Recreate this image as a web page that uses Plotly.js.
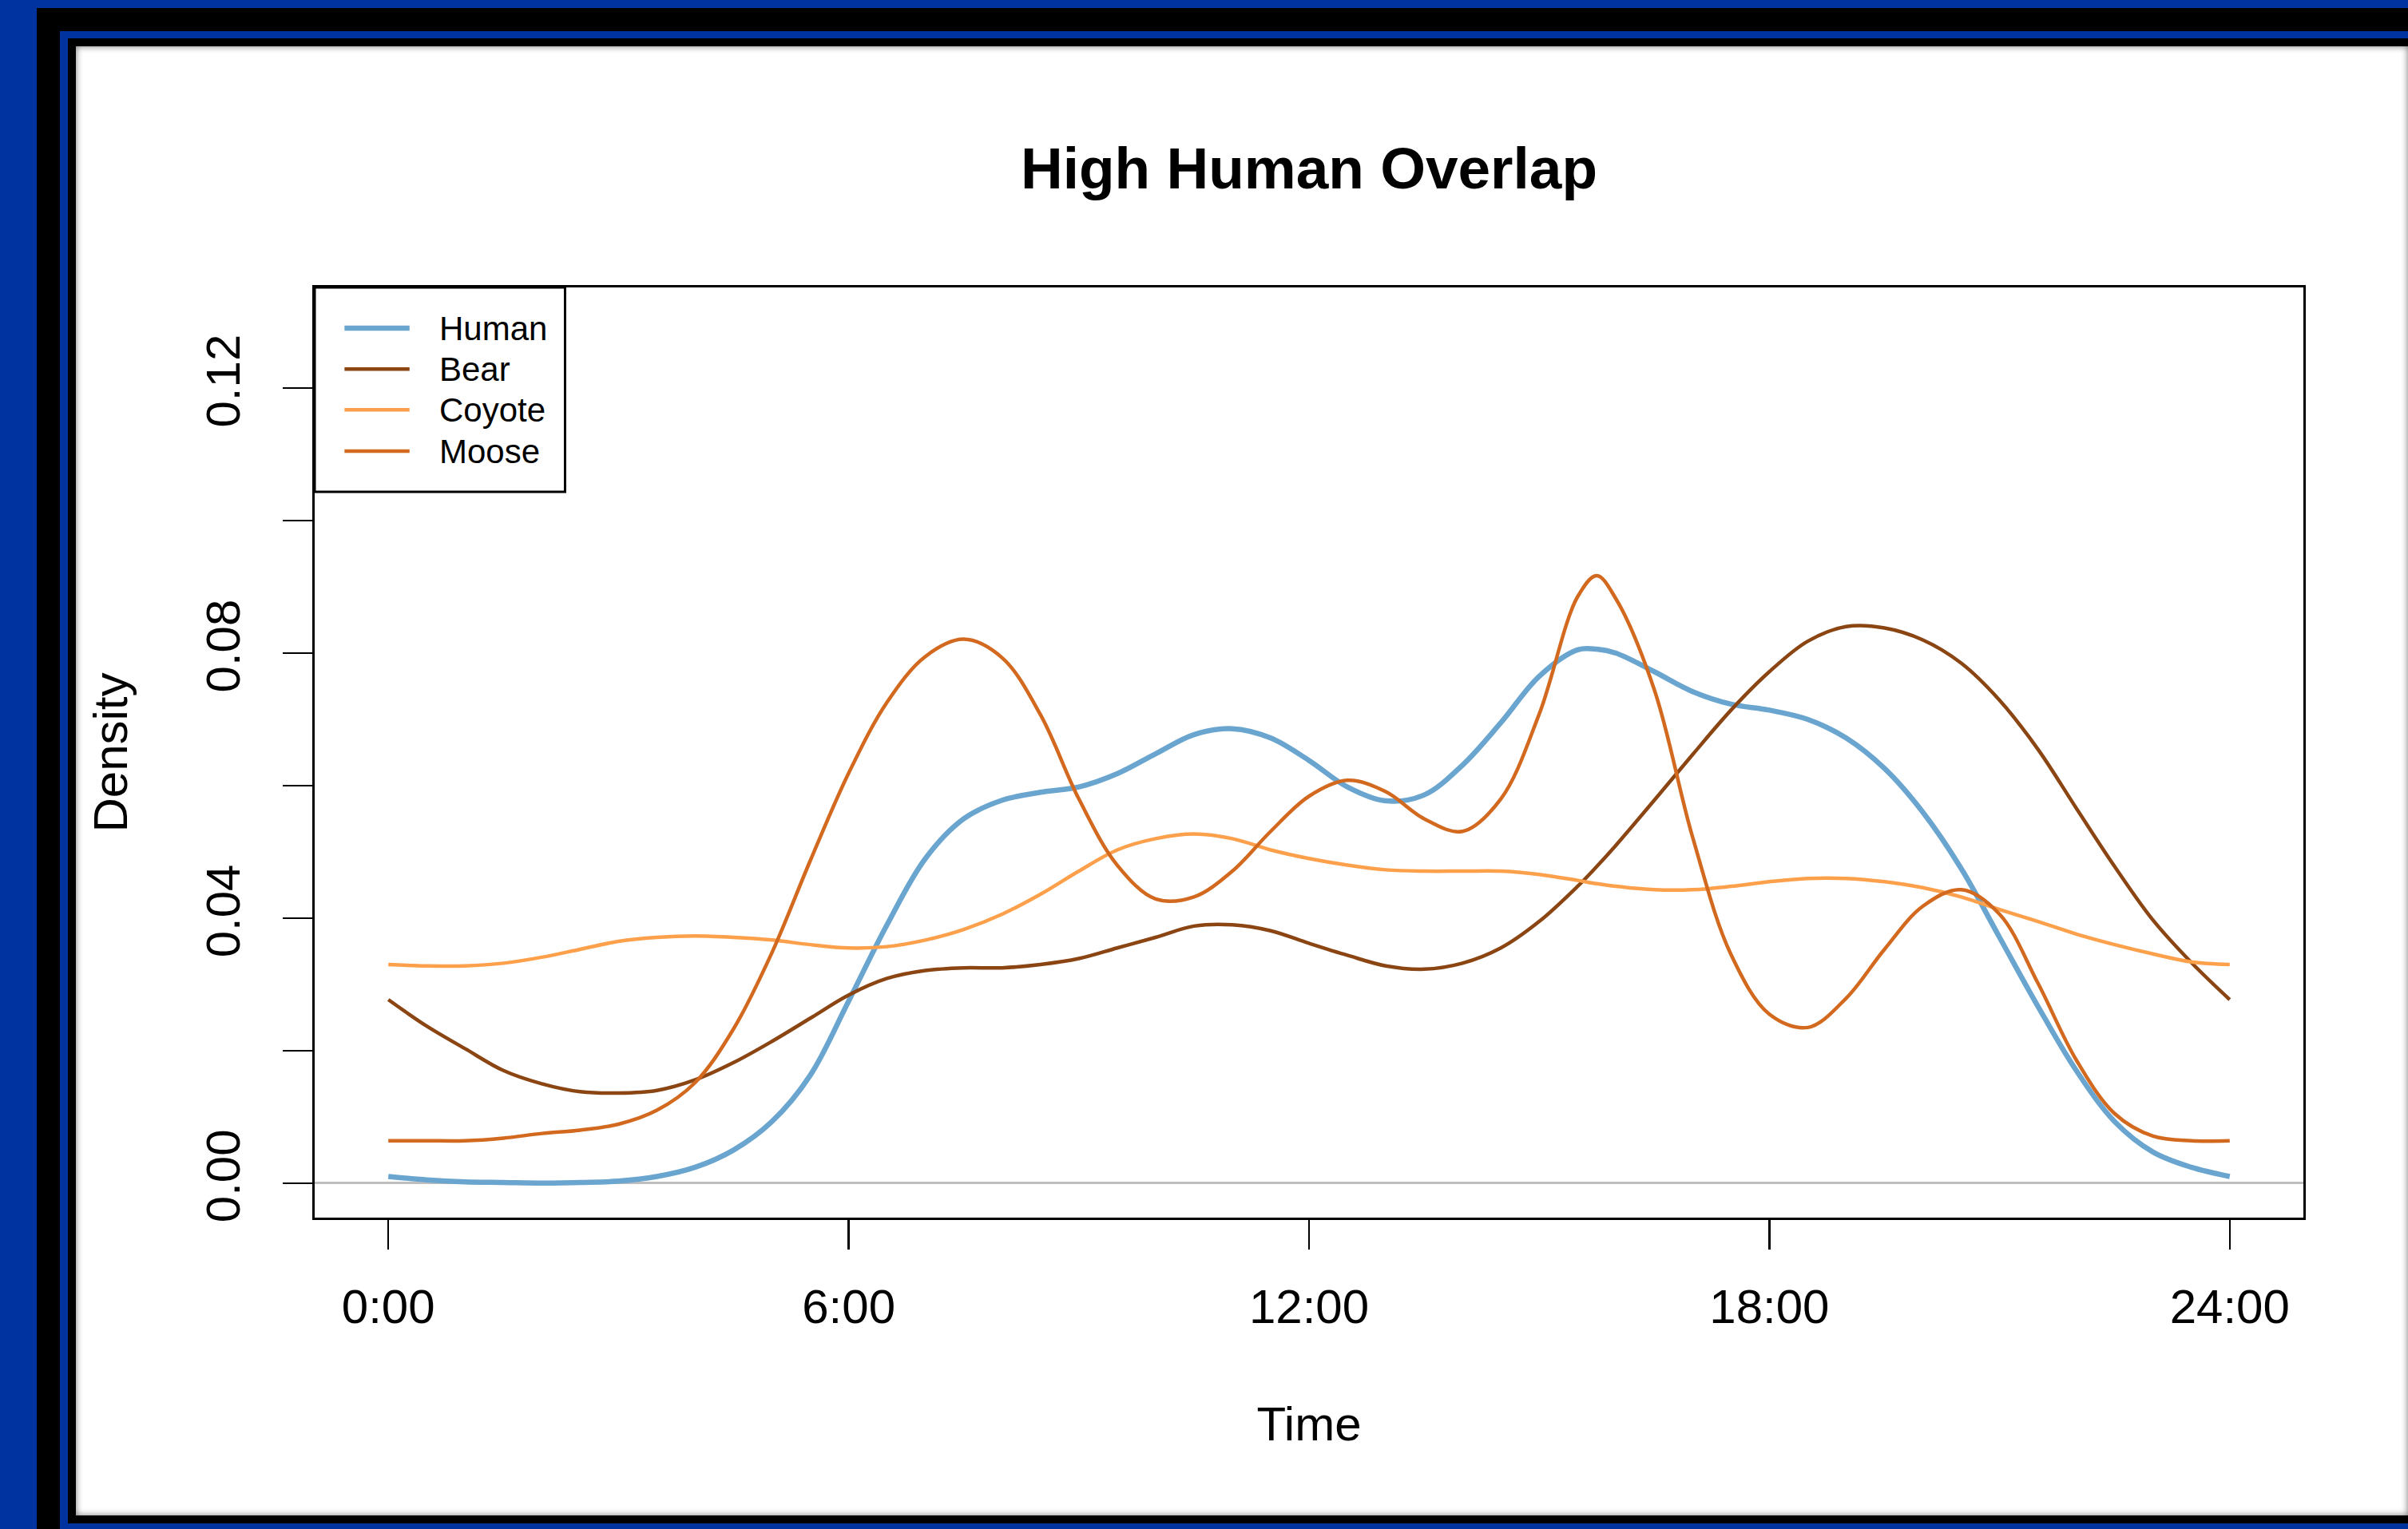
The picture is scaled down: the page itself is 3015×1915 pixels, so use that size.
<!DOCTYPE html>
<html>
<head>
<meta charset="utf-8">
<script src="https://cdn.plot.ly/plotly-3.0.1.min.js"></script>
<style>
html,body{margin:0;padding:0;width:3015px;height:1915px;overflow:hidden;background:#00339f;}
.f{position:absolute;}
#plot{position:absolute;left:0;top:0;width:3015px;height:1915px;}
</style>
</head>
<body>
<div class="f" style="left:46px;top:10px;width:2969px;height:1905px;background:#000"></div>
<div class="f" style="left:75px;top:39px;width:2940px;height:1876px;background:#00339f"></div>
<div class="f" style="left:85px;top:48px;width:2930px;height:1860px;background:#000"></div>
<div class="f" style="left:95px;top:58px;width:2920px;height:1840px;background:#fff;box-shadow:inset 0 0 9px rgba(0,0,0,0.55);"></div>
<div id="plot"></div>
<script>
// Hours of the day (x grid)
const hours = [0,0.5,1,1.5,2,2.5,3,3.5,4,4.5,5,5.5,6,6.5,7,7.5,8,8.5,9,9.5,10,10.5,11,11.5,12,12.5,13,13.5,14,14.5,15,15.5,15.75,16,16.5,17,17.5,18,18.5,19,19.5,20,20.5,21,21.5,22,22.5,23,23.5,24];

const human = [0.0010,0.0005,0.0002,0.0001,0.0000,0.0001,0.0003,0.0010,0.0024,0.0050,0.0093,0.0163,0.0275,0.0390,0.0490,0.0550,0.0578,0.0590,0.0598,0.0618,0.0648,0.0677,0.0686,0.0672,0.0638,0.0598,0.0577,0.0586,0.0631,0.0695,0.0765,0.0805,0.0806,0.0800,0.0772,0.0742,0.0723,0.0714,0.0700,0.0672,0.0626,0.0560,0.0475,0.0371,0.0267,0.0170,0.0093,0.0047,0.0024,0.0010];

const bear = [0.0277,0.0237,0.0203,0.0170,0.0150,0.0138,0.0136,0.0140,0.0156,0.0182,0.0214,0.0249,0.0284,0.0309,0.0321,0.0325,0.0325,0.0330,0.0339,0.0355,0.0371,0.0388,0.0390,0.0381,0.0362,0.0344,0.0328,0.0323,0.0332,0.0355,0.0395,0.0448,0.0478,0.0510,0.0578,0.0647,0.0714,0.0772,0.0818,0.0840,0.0838,0.0820,0.0785,0.0729,0.0655,0.0566,0.0478,0.0397,0.0333,0.0277];

const coyote = [0.0330,0.0328,0.0328,0.0332,0.0341,0.0353,0.0365,0.0371,0.0373,0.0371,0.0367,0.0360,0.0355,0.0357,0.0367,0.0383,0.0406,0.0436,0.0471,0.0503,0.0520,0.0527,0.0520,0.0503,0.0490,0.0480,0.0473,0.0471,0.0471,0.0471,0.0466,0.0457,0.0452,0.0448,0.0443,0.0443,0.0448,0.0455,0.0460,0.0460,0.0455,0.0446,0.0432,0.0413,0.0395,0.0376,0.0360,0.0346,0.0334,0.0330];

const moose = [0.0064,0.0064,0.0064,0.0068,0.0075,0.0080,0.0089,0.0110,0.0152,0.0233,0.0348,0.0487,0.0619,0.0726,0.0795,0.0821,0.0793,0.0707,0.0580,0.0480,0.0429,0.0432,0.0471,0.0531,0.0584,0.0608,0.0591,0.0550,0.0531,0.0580,0.0708,0.0885,0.0917,0.0882,0.0745,0.0522,0.0345,0.0255,0.0235,0.0279,0.0353,0.0418,0.0443,0.0406,0.0302,0.0186,0.0105,0.0071,0.0064,0.0064];

const seriesNames = ['Human','Bear','Coyote','Moose'];
const seriesColors = ['#6aa5cf','#8b4513','#fda04c','#d2691e'];
const seriesWidths = [6.5,4.5,4.5,4.5];
const seriesValues = [human,bear,coyote,moose];

const xTickVals = [0,6,12,18,24];
const xTickText = ['0:00','6:00','12:00','18:00','24:00'];
const yTickVals = [0,0.02,0.04,0.06,0.08,0.10,0.12];
const yTickText = ['0.00','','0.04','','0.08','','0.12'];

const FONT = 'Liberation Sans, Arial, Helvetica, sans-serif';

const traces = seriesNames.map((n,i)=>({
  x: hours, y: seriesValues[i], name: n, type:'scatter', mode:'lines',
  line:{color:seriesColors[i], width:seriesWidths[i], shape:'spline', smoothing:1},
  hoverinfo:'skip', showlegend:false
}));

// Legend box (drawn in paper units, like R's legend("topleft"))
const legBox = {x0:0, x1:0.1259, y0:0.7803, y1:1};
const legLineX = [0.0150, 0.0477];
const legTextX = 0.0618;
const legRowY = [0.9562, 0.9122, 0.8684, 0.8240];

const shapes = [{type:'rect', xref:'paper', yref:'paper', x0:legBox.x0, x1:legBox.x1, y0:legBox.y0, y1:legBox.y1,
                 line:{color:'#000', width:3}, fillcolor:'#fff', layer:'above'}];
const annotations = [];
seriesNames.forEach((n,i)=>{
  shapes.push({type:'line', xref:'paper', yref:'paper', x0:legLineX[0], x1:legLineX[1], y0:legRowY[i], y1:legRowY[i],
               line:{color:seriesColors[i], width:seriesWidths[i]}, layer:'above'});
  annotations.push({xref:'paper', yref:'paper', x:legTextX, y:legRowY[i], xanchor:'left', yanchor:'middle',
                    text:n, showarrow:false, font:{family:FONT, size:42, color:'#000'}});
});

const layout = {
  width:3015, height:1915,
  paper_bgcolor:'rgba(0,0,0,0)', plot_bgcolor:'rgba(0,0,0,0)',
  margin:{l:394, r:131, t:360, b:390, pad:0},
  font:{family:FONT, color:'#000'},
  title:{text:'<b>High Human Overlap</b>', font:{family:FONT, size:73, color:'#000'},
         x:0.5, xref:'paper', xanchor:'center', y:1-210/1915, yref:'container', yanchor:'middle'},
  showlegend:false,
  shapes: shapes,
  annotations: annotations,
  xaxis:{range:[-0.96,24.96], tickmode:'array', tickvals:xTickVals, ticktext:xTickText,
         ticks:'outside', ticklen:37, tickwidth:2.5, tickcolor:'#000',
         showline:true, linecolor:'#000', linewidth:3, mirror:true,
         showgrid:false, zeroline:false, ticklabelstandoff:20,
         tickfont:{family:FONT, size:60, color:'#000'},
         title:{text:'Time', font:{family:FONT, size:60, color:'#000'}, standoff:93}},
  yaxis:{range:[-0.0052,0.1352], tickmode:'array', tickvals:yTickVals, ticktext:yTickText,
         ticks:'outside', ticklen:37, tickwidth:2.5, tickcolor:'#000', tickangle:-90,
         showline:true, linecolor:'#000', linewidth:3, mirror:true,
         showgrid:false, zeroline:true, zerolinecolor:'#bebebe', zerolinewidth:3,
         ticklabelstandoff:30,
         tickfont:{family:FONT, size:60, color:'#000'},
         title:{text:'Density', font:{family:FONT, size:60, color:'#000'}, standoff:68}}
};

Plotly.newPlot('plot', traces, layout, {staticPlot:true, displayModeBar:false});
</script>
</body>
</html>
